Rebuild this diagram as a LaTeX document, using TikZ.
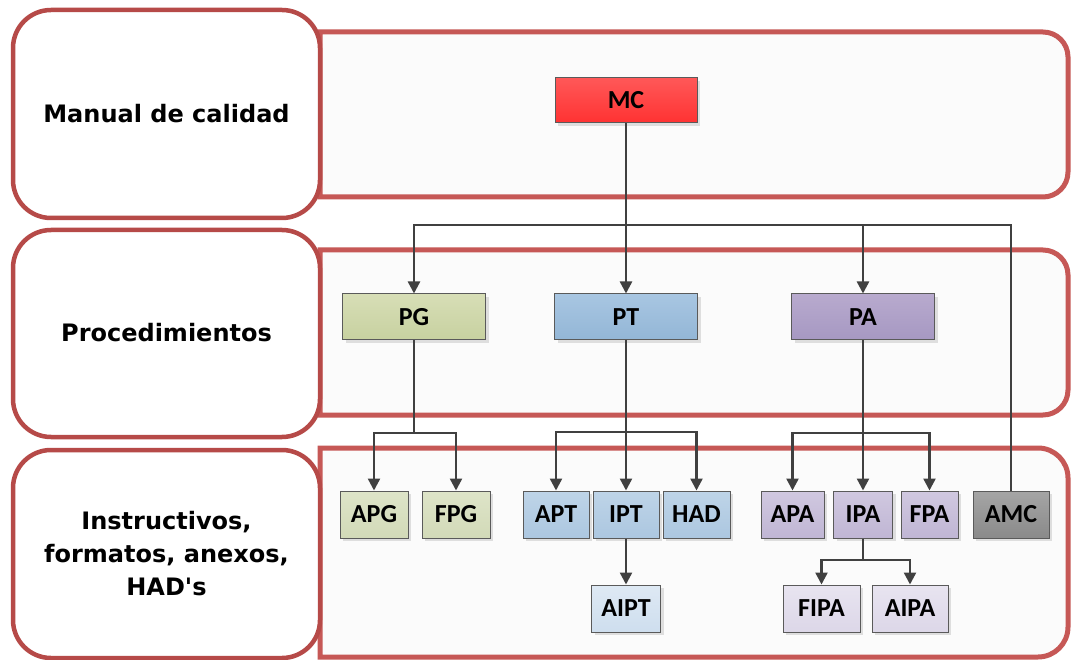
\documentclass[tikz,border=0pt]{standalone}
\usepackage{fontspec}
\setmainfont{Carlito}
\newfontfamily\labelfont{DejaVu Sans}
\usetikzlibrary{arrows.meta,shadows}

\definecolor{ink}{RGB}{64,64,64}
\definecolor{edge}{RGB}{90,90,90}
\definecolor{labred}{RGB}{182,74,72}
\definecolor{panred}{RGB}{198,88,86}
\definecolor{panfill}{RGB}{251,251,251}

\tikzset{
  panel/.style={draw=panred, line width=5pt, fill=panfill},
  lbox/.style={draw=labred, line width=4.5pt, fill=white, rounded corners=38pt,
    align=center, inner sep=0pt,
    font=\labelfont\bfseries\fontsize{24}{33}\selectfont},
  box/.style={draw=edge, line width=1pt, inner sep=0pt,
    font=\bfseries\fontsize{26}{26}\selectfont,
    drop shadow={shadow xshift=3pt, shadow yshift=-3pt, fill=black!13, opacity=1}},
  big/.style={box, minimum width=143pt, minimum height=46pt},
  small/.style={box, minimum height=47pt},
  redbox/.style={top color={rgb,255:red,255;green,88;blue,88}, bottom color={rgb,255:red,255;green,50;blue,50}},
  grnA/.style={top color={rgb,255:red,215;green,222;blue,182}, bottom color={rgb,255:red,199;green,209;blue,160}},
  grnB/.style={top color={rgb,255:red,222;green,228;blue,200}, bottom color={rgb,255:red,210;green,218;blue,184}},
  bluA/.style={top color={rgb,255:red,168;green,198;blue,226}, bottom color={rgb,255:red,147;green,182;blue,214}},
  bluB/.style={top color={rgb,255:red,190;green,212;blue,232}, bottom color={rgb,255:red,172;green,199;blue,224}},
  bluC/.style={top color={rgb,255:red,222;green,233;blue,244}, bottom color={rgb,255:red,206;green,222;blue,238}},
  purA/.style={top color={rgb,255:red,184;green,170;blue,206}, bottom color={rgb,255:red,166;green,152;blue,194}},
  purB/.style={top color={rgb,255:red,208;green,200;blue,224}, bottom color={rgb,255:red,192;green,182;blue,212}},
  purC/.style={top color={rgb,255:red,232;green,228;blue,240}, bottom color={rgb,255:red,220;green,215;blue,232}},
  gryA/.style={top color={rgb,255:red,165;green,165;blue,165}, bottom color={rgb,255:red,138;green,138;blue,138}},
  conn/.style={draw=ink, line width=2.4pt},
  arr/.style={conn, -{Triangle[length=12pt,width=12pt]}}
}

\begin{document}
\begin{tikzpicture}[x=1pt,y=-1pt]
\useasboundingbox[fill=white] (0,0) rectangle (1071,660);

% level panels (square left side, rounded right side)
\draw[panel] (320,32) -- (1043,32) arc[start angle=90,end angle=0,radius=25pt]
  -- (1068,172) arc[start angle=0,end angle=-90,radius=25pt] -- (320,197) -- cycle;
\draw[panel] (320,250) -- (1043,250) arc[start angle=90,end angle=0,radius=25pt]
  -- (1068,390) arc[start angle=0,end angle=-90,radius=25pt] -- (320,415) -- cycle;
\draw[panel] (320,448) -- (1038,448) arc[start angle=90,end angle=0,radius=30pt]
  -- (1068,627) arc[start angle=0,end angle=-90,radius=30pt] -- (320,657) -- cycle;

% level titles
\node[lbox, minimum width=307pt, minimum height=208pt] (lab1) at (166.5,114) {\raisebox{2pt}{Manual de calidad}};
\node[lbox, minimum width=307pt, minimum height=207pt] (lab2) at (166.5,333.5) {\raisebox{2pt}{Procedimientos}};
\node[lbox, minimum width=307pt, minimum height=208pt] (lab3) at (166.5,554) {Instructivos,\\formatos, anexos,\\HAD's};

% documents
\node[box, redbox, minimum width=142pt, minimum height=45pt] (MC) at (626,100.5) {MC};

\node[big, grnA] (PG) at (414,317) {PG};
\node[big, bluA] (PT) at (626,317) {PT};
\node[big, purA] (PA) at (863,317) {PA};

\node[small, grnB, minimum width=68pt] (APG) at (374,514.5) {APG};
\node[small, grnB, minimum width=68pt] (FPG) at (456,514.5) {FPG};
\node[small, bluB, minimum width=66pt] (APT) at (556,514.5) {APT};
\node[small, bluB, minimum width=66pt] (IPT) at (626,514.5) {IPT};
\node[small, bluB, minimum width=67pt] (HAD) at (696.5,514.5) {HAD};
\node[small, purB, minimum width=63pt] (APA) at (792.5,514.5) {APA};
\node[small, purB, minimum width=59pt] (IPA) at (863,514.5) {IPA};
\node[small, purB, minimum width=57pt] (FPA) at (929.5,514.5) {FPA};
\node[small, gryA, minimum width=76pt] (AMC) at (1011,514.5) {AMC};

\node[small, bluC, minimum width=69pt] (AIPT) at (626,608.5) {AIPT};
\node[small, purC, minimum width=77pt] (FIPA) at (821.5,608.5) {\raisebox{-4pt}{FIPA}};
\node[small, purC, minimum width=76pt] (AIPA) at (910,608.5) {AIPA};

% branching points
\coordinate (mcbus) at (626,225);
\coordinate (pgbus) at (414,433);
\coordinate (ptbus) at (626,432);
\coordinate (pabus) at (863,433);
\coordinate (ipabus) at (863,560);

% connectors
\draw[conn] (MC.south) -- (mcbus);
\draw[arr] (mcbus) -| (PG.north);
\draw[arr] (mcbus) -- (PT.north);
\draw[arr] (mcbus) -| (PA.north);
\draw[conn] (mcbus) -| (AMC.north);

\draw[conn] (PG.south) -- (pgbus);
\draw[arr] (pgbus) -| (APG.north);
\draw[arr] (pgbus) -| (FPG.north);

\draw[conn] (PT.south) -- (ptbus);
\draw[arr] (ptbus) -| (APT.north);
\draw[arr] (ptbus) -- (IPT.north);
\draw[arr] (ptbus) -| (HAD.north);

\draw[conn] (PA.south) -- (pabus);
\draw[arr] (pabus) -| (APA.north);
\draw[arr] (pabus) -- (IPA.north);
\draw[arr] (pabus) -| (FPA.north);

\draw[arr] (IPT.south) -- (AIPT.north);

\draw[conn] (IPA.south) -- (ipabus);
\draw[arr] (ipabus) -| (FIPA.north);
\draw[arr] (ipabus) -| (AIPA.north);
\end{tikzpicture}
\end{document}
